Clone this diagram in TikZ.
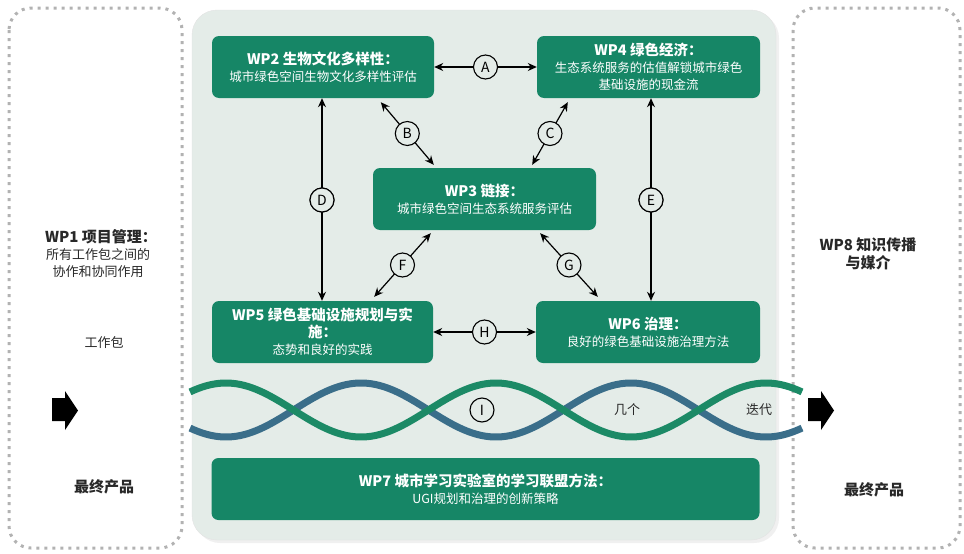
\documentclass[tikz,border=0pt]{standalone}
\usepackage{fontspec}
\setmainfont{Noto Sans CJK SC}
\usetikzlibrary{arrows.meta,calc}
\definecolor{boxgreen}{RGB}{22,134,102}
\definecolor{panel}{RGB}{228,236,232}
\definecolor{helixgreen}{RGB}{28,138,102}
\definecolor{helixblue}{RGB}{58,110,138}
\definecolor{dotgray}{RGB}{178,178,178}
\definecolor{txtgray}{RGB}{40,40,40}
\newcommand{\wpt}[1]{{\fontsize{14.5}{17.5}\selectfont\bfseries #1}}
\newcommand{\wps}[1]{{\fontsize{12.5}{17}\selectfont #1}}
\begin{document}
\begin{tikzpicture}[x=1pt,y=-1pt,
  wpbox/.style={rectangle, rounded corners=7pt, fill=boxgreen, text=white, align=center, inner sep=1pt, minimum height=62pt, font=\fontsize{12.5}{17}\selectfont},
  lbl/.style={circle, draw=black, line width=1.1pt, fill=panel, minimum size=24pt, inner sep=0pt, font=\fontsize{14}{14}\selectfont},
  dbl/.style={{Stealth[length=9pt,width=8pt]}-{Stealth[length=9pt,width=8pt]}, line width=1.2pt},
  dotbox/.style={draw=dotgray, line width=3pt, dash pattern=on 3pt off 5pt, rounded corners=22pt},
  side/.style={text=txtgray, align=center, font=\fontsize{13}{16.5}\selectfont},
  sidebold/.style={text=txtgray, align=center, font=\bfseries\fontsize{15}{18}\selectfont},
  helix/.style={line width=7pt, domain=190:802, samples=160, smooth}
]
\useasboundingbox (0,0) rectangle (964,554);
% side boxes
\draw[dotbox] (9,8) rectangle (182,548);
\draw[dotbox] (793,8) rectangle (960,548);
% central panel
\fill[gray!12, rounded corners=25pt] (195,13) rectangle (779,543);
\draw[fill=panel, draw=gray!22, rounded corners=25pt] (192,10) rectangle (776,540);

% work package boxes
\node[wpbox, minimum width=222pt] (wp2) at (323,67) {\wpt{WP2 生物文化多样性：}\\\wps{城市绿色空间生物文化多样性评估}};
\node[wpbox, minimum width=223pt] (wp4) at (648.5,67) {\wpt{WP4 绿色经济：}\\\wps{生态系统服务的估值解锁城市绿色}\\\wps{基础设施的现金流}};
\node[wpbox, minimum width=223pt] (wp3) at (484.5,199) {\wpt{WP3 链接：}\\\wps{城市绿色空间生态系统服务评估}};
\node[wpbox, minimum width=221pt] (wp5) at (322.5,332) {\wpt{WP5 绿色基础设施规划与实}\\\wpt{施：}\\\wps{态势和良好的实践}};
\node[wpbox, minimum width=224pt] (wp6) at (648,332) {\wpt{WP6 治理：}\\\wps{良好的绿色基础设施治理方法}};
\node[wpbox, minimum width=548pt] (wp7) at (485.5,489) {\wpt{WP7 城市学习实验室的学习联盟方法：}\\\wps{UGI规划和治理的创新策略}};

% connectors
\draw[dbl] (wp2.east) -- node[lbl] (lA) {A} (wp4.west);
\draw[dbl] (wp5.east) -- node[lbl] (lH) {H} (wp6.west);
\node[lbl] (lD) at (322,200) {D};
\node[lbl] (lE) at (651,200) {E};
\draw[dbl] (wp2.south -| lD) -- (wp5.north -| lD);
\draw[dbl] (wp4.south -| lE) -- (wp6.north -| lE);
\draw[dbl] ([xshift=169pt,yshift=-4pt]wp2.south west) -- node[lbl] (lB) {B} ([xshift=61pt,yshift=3pt]wp3.north west);
\draw[dbl] ([xshift=31pt,yshift=-4pt]wp4.south west) -- node[lbl] (lC) {C} ([xshift=-64pt,yshift=3pt]wp3.north east);
\draw[dbl] ([xshift=58pt,yshift=-3pt]wp3.south west) -- node[lbl] (lF) {F} ([xshift=-59pt,yshift=4pt]wp5.north east);
\draw[dbl] ([xshift=-56pt,yshift=-3pt]wp3.south east) -- node[lbl] (lG) {G} ([xshift=62pt,yshift=4pt]wp6.north west);
% redraw D/E labels over lines
\node[lbl] at (lD) {D};
\node[lbl] at (lE) {E};

% helix
\draw[helix, helixblue] plot (\x, {410+27*cos(1.33333*(\x-496))});
\draw[helix, helixgreen] plot (\x, {410-27*cos(1.33333*(\x-496))});
\node[lbl] (lI) at (482,410) {I};
\node[side] (several) at (627,410) {几个};
\node[side] (iter) at (759,410) {迭代};

% block arrows
\fill[black] (52,398) -- (65,398) -- (65,391) -- (78,410.5) -- (65,430) -- (65,421) -- (52,421) -- cycle;
\fill[black] (808,398) -- (821,398) -- (821,391) -- (834,410.5) -- (821,430) -- (821,421) -- (808,421) -- cycle;

% side texts
\node[sidebold] (wp1) at (101,237) {WP1 项目管理：};
\node[side] (wp1s) at (98,263) {所有工作包之间的\\协作和协同作用};
\node[side] (wpk) at (104,343) {工作包};
\node[sidebold] (endL) at (104,487) {最终产品};
\node[sidebold] (wp8) at (868,254) {WP8 知识传播\\与媒介};
\node[sidebold] (endR) at (874,490) {最终产品};
\end{tikzpicture}
\end{document}
